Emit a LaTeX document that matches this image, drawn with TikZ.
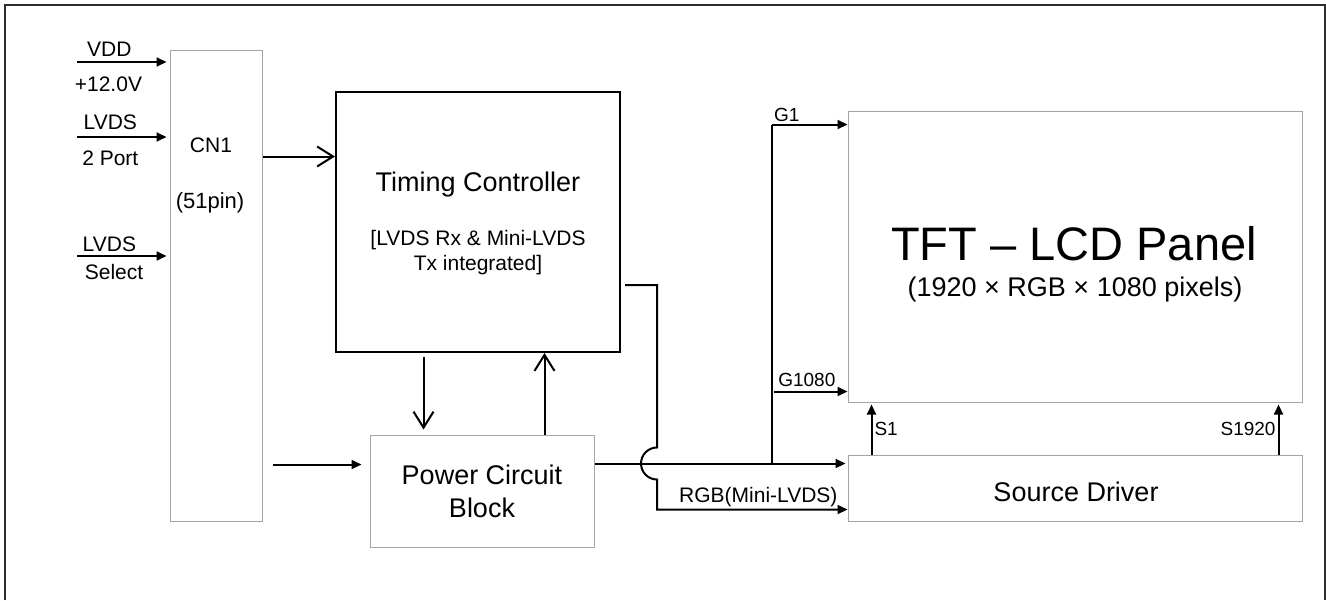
\documentclass[tikz,border=0pt]{standalone}
\usepackage{fontspec}
\setmainfont{Liberation Sans}
\usetikzlibrary{arrows.meta,calc,positioning}
\definecolor{BoxGray}{RGB}{165,165,165}
\definecolor{FrameGray}{RGB}{45,45,45}
\tikzset{
  graybox/.style={draw=BoxGray, line width=0.5pt, inner sep=0pt, align=center},
  blackbox/.style={draw=black, line width=1pt, inner sep=0pt},
  wire/.style={line width=1pt},
  farrow/.style={wire, -{Triangle[length=5pt,width=4.5pt]}},
  oarrow/.style={wire, -{Straight Barb[length=8pt,width=10pt]}},
  lbl/.style={inner sep=1pt, font=\fontsize{10.5}{12}\selectfont},
  glbl/.style={inner sep=1pt, font=\fontsize{9.5}{11}\selectfont}
}
\begin{document}
\begin{tikzpicture}[x=0.5pt,y=-0.5pt]
\useasboundingbox (0,0) rectangle (1326,600);
\draw[FrameGray, line width=1.2pt] (5,600) -- (5,5) -- (1325,5) -- (1325,600);

\node[graybox, minimum width=46pt, minimum height=235.5pt] (cn1) at (216,285.5) {};
\node[blackbox, minimum width=142pt, minimum height=130pt] (tc) at (478,222) {};
\node[graybox, minimum width=112pt, minimum height=56pt,
  font=\fontsize{13.5}{16.5}\selectfont] (pwr) at (482,491) {Power Circuit\\Block};
\node[graybox, minimum width=227pt, minimum height=145.5pt] (panel) at (1075,256.5) {};
\node[graybox, minimum width=227pt, minimum height=33pt] (src) at (1075,488) {};

\node[lbl] (cn1name) at (211,145) {CN1};
\node[lbl, font=\fontsize{11}{13}\selectfont] (cn1pins) at (210,203) {(51pin)};
\node[font=\fontsize{13.5}{16}\selectfont] (tcname) at (478,185) {Timing Controller};
\node[align=center, font=\fontsize{10.5}{12.5}\selectfont] (tcnote) at (478,253)
  {[LVDS Rx \& Mini-LVDS\\Tx integrated]};
\node[font=\fontsize{23.5}{28}\selectfont] (panelname) at (1074,244) {TFT – LCD Panel};
\node[font=\fontsize{13.5}{16}\selectfont] (panelres) at (1075,290) {(1920 × RGB × 1080 pixels)};
\node[font=\fontsize{13.5}{16}\selectfont] (srcname) at (1076,492) {Source Driver};

\coordinate (vdd) at (77,62);
\coordinate (lvds) at (77,137);
\coordinate (lsel) at (77,256);
\draw[farrow, shorten >=1.5pt] (vdd) --
  node[lbl, above=1.2pt, pos=0.35] {VDD}
  node[lbl, below=6pt, pos=0.34] {+12.0V} (vdd -| cn1.west);
\draw[farrow, shorten >=1.5pt] (lvds) --
  node[lbl, above=2pt, pos=0.36] {LVDS}
  node[lbl, below=5.5pt, pos=0.36] {2 Port} (lvds -| cn1.west);
\draw[farrow, shorten >=1.5pt] (lsel) --
  node[lbl, above=0.7pt, pos=0.35] {LVDS}
  node[lbl, below=2.7pt, pos=0.4] {Select} (lsel -| cn1.west);

\coordinate (tcin) at ($(tc.north west)!0.25!(tc.south west)$);
\draw[oarrow] (cn1.east |- tcin) -- (tcin);

\coordinate (pwrin) at ($(pwr.north west)+(0,30)$);
\draw[farrow, shorten <=5pt, shorten >=4pt] (cn1.east |- pwrin) -- (pwrin);

\coordinate (tcdn) at ($(pwr.north west)+(54,0)$);
\coordinate (pwrup) at ($(pwr.north west)+(175,0)$);
\draw[oarrow, shorten <=2pt, shorten >=2.5pt] (tcdn |- tc.south) -- (tcdn);
\draw[oarrow] (pwrup) -- (pwrup |- tc.south);

\coordinate (bus) at ($(pwr.north east)+(0,29)$);
\draw[farrow, shorten >=1pt] (bus) -- (bus -| src.west);

\coordinate (gtap) at ($(bus -| src.west)+(-76,0)$);
\coordinate (g1) at ($(panel.north west)+(0,14)$);
\coordinate (g1080) at ($(panel.south west)+(0,-11)$);
\draw[wire] (gtap) -- (gtap |- g1);
\draw[farrow] (gtap |- g1) -- node[glbl, above, pos=0.2] {G1} (g1);
\draw[farrow] ($(gtap |- g1080)+(2,0)$) -- node[glbl, above=1pt, pos=0.45] {G1080} (g1080);

\coordinate (s1) at ($(src.north west)+(24,0)$);
\coordinate (s1920) at ($(src.north east)+(-24,0)$);
\draw[farrow, shorten >=1pt] (s1) -- node[glbl, right] {S1} (s1 |- panel.south);
\draw[farrow, shorten >=1pt] (s1920) -- node[glbl, left] {S1920} (s1920 |- panel.south);

\coordinate (tcout) at ($(tc.south east)+(4,-68)$);
\coordinate (rgbx) at ($(tcout)+(32,0)$);
\coordinate (rgb) at ($(src.south west)+(0,-12)$);
\draw[farrow] (tcout) -- (rgbx) -- ($(rgbx |- bus)+(0,-16)$)
  arc[start angle=-90, end angle=-270, radius=16] -- (rgbx |- rgb)
  -- node[lbl, anchor=south east, pos=0.963] {RGB(Mini-LVDS)} (rgb);
\end{tikzpicture}
\end{document}
